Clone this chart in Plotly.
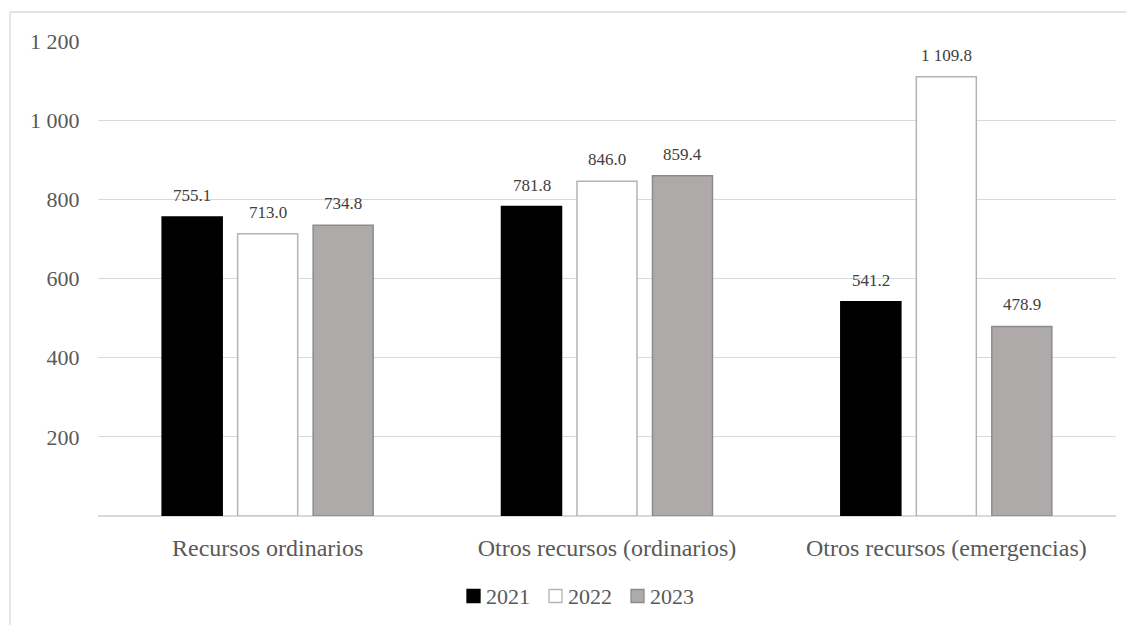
import plotly.graph_objects as go

categories = ["Recursos ordinarios", "Otros recursos (ordinarios)", "Otros recursos (emergencias)"]
years = ["2021", "2022", "2023"]
values_2021 = [755.1, 781.8, 541.2]
values_2022 = [713.0, 846.0, 1109.8]
values_2023 = [734.8, 859.4, 478.9]
tick_vals = [200, 400, 600, 800, 1000, 1200]
tick_text = ["200", "400", "600", "800", "1 000", "1 200"]

series = [values_2021, values_2022, values_2023]
fills = ["#000000", "#FFFFFF", "#AEAAAA"]
outlines = ["#000000", "#B4B4B4", "#8C8C8C"]

FONT = "Liberation Serif, Times New Roman, serif"

def fmt(v):
    return f"{v:,.1f}".replace(",", " ")

fig = go.Figure()
for name, vals, fc, lc in zip(years, series, fills, outlines):
    fig.add_trace(go.Bar(
        x=categories, y=vals, name=name, showlegend=False,
        marker=dict(color=fc, line=dict(color=lc, width=1.5)),
    ))

annotations = []
pitch = 75.5
for i, vals in enumerate(series):
    for c, v in zip(categories, vals):
        annotations.append(dict(
            x=c, y=v, xref="x", yref="y", text=fmt(v), showarrow=False,
            xshift=(i - 1) * pitch, yshift=21.5, yanchor="middle",
            font=dict(family=FONT, size=17, color="#404040"),
        ))

# page body has an 8px offset; figure coordinates = screenshot coordinates - 8
OFF = 8
W, H = 1126, 617
l, r, t, b = 90, 18, 33, 109
pw, ph = W - l - r, H - t - b

def px(xp):
    return (xp - OFF - l) / pw

def py(yp):
    return (H - b - (yp - OFF)) / ph

shapes = [
    dict(type="line", xref="paper", yref="paper", x0=px(10), y0=py(12), x1=px(1160), y1=py(12),
         line=dict(color="#D9D9D9", width=1.3)),
    dict(type="line", xref="paper", yref="paper", x0=px(10), y0=py(12), x1=px(10), y1=py(660),
         line=dict(color="#D9D9D9", width=1.3)),
]

# legend (drawn as key squares + text)
legend_x0 = 467
legend_pitch = 82
sq = 13
legend_yc = 596
for k, (name, fc, lc) in enumerate(zip(years, fills, outlines)):
    x0 = legend_x0 + k * legend_pitch
    shapes.append(dict(
        type="rect", xref="paper", yref="paper",
        x0=px(x0), x1=px(x0 + sq), y0=py(legend_yc + sq / 2), y1=py(legend_yc - sq / 2),
        fillcolor=fc, line=dict(color=lc, width=1.3),
    ))
    annotations.append(dict(
        x=px(x0 + sq + 4), y=py(legend_yc), xref="paper", yref="paper",
        text=name, showarrow=False, xanchor="left", yanchor="middle",
        font=dict(family=FONT, size=22, color="#595959"),
    ))

fig.update_layout(
    width=W, height=H,
    margin=dict(l=l, r=r, t=t, b=b),
    paper_bgcolor="white", plot_bgcolor="white",
    barmode="group", bargap=0.3325, bargroupgap=0.205,
    font=dict(family=FONT, color="#595959"),
    annotations=annotations,
    shapes=shapes,
    showlegend=False,
)
fig.update_xaxes(
    showgrid=False, showline=False, zeroline=False,
    tickfont=dict(family=FONT, size=24, color="#595959"),
    ticks="outside", ticklen=10, tickcolor="rgba(0,0,0,0)",
)
fig.update_yaxes(
    range=[0, 1200], tickvals=tick_vals, ticktext=tick_text,
    showgrid=True, gridcolor="#D9D9D9", gridwidth=1.3,
    zeroline=True, zerolinecolor="#D9D9D9", zerolinewidth=1.5,
    showline=False,
    tickfont=dict(family=FONT, size=22, color="#595959"),
    ticks="outside", ticklen=13, tickcolor="rgba(0,0,0,0)",
)

fig.write_html("out.html")
